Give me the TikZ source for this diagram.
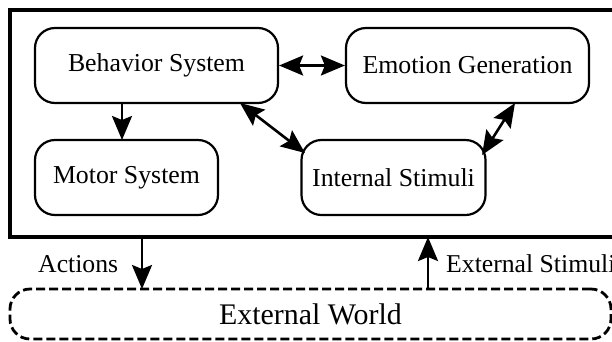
\documentclass[tikz,border=0pt]{standalone}
\usepackage{fontspec}
\setmainfont{Liberation Serif}
\usetikzlibrary{arrows.meta}
\begin{document}
\begin{tikzpicture}[x=1pt,y=-1pt,
  box/.style={draw, line width=2.2pt, rounded corners=20pt, inner sep=0pt, minimum height=75pt,
    font=\fontsize{25.8}{30}\selectfont},
  conn/.style={line width=2.6pt, -{Stealth[length=24pt,width=20pt,inset=4pt]}},
  biconn/.style={line width=2.6pt, {Stealth[length=24pt,width=20pt,inset=4pt]}-{Stealth[length=24pt,width=20pt,inset=4pt]}},
  lbl/.style={inner sep=0pt, anchor=base west, font=\fontsize{25.7}{30}\selectfont}]
\useasboundingbox (0,0) rectangle (612,341);
\clip (0,0) rectangle (612,341);
\fill[white] (0,0) rectangle (612,341);
\draw[line width=4.5pt] (10,10) rectangle (640,237);
\node[box, minimum width=243pt] (beh) at (156.5,65.5) {Behavior System};
\node[box, minimum width=243pt] (emo) at (467.5,65.5) {Emotion Generation};
\node[box, minimum width=183pt] (mot) at (126.5,177.5) {Motor System};
\node[box, minimum width=184pt] (int) at (393.5,177.5) {Internal Stimuli};
\node[draw, line width=2.8pt, dash pattern=on 9pt off 4pt, rounded corners=20pt, inner sep=0pt,
  minimum width=601pt, minimum height=50pt, font=\fontsize{29.9}{34}\selectfont] (ext) at (310.5,314) {External World};
\coordinate (bm) at (122,103);
\coordinate (mt) at (122,140);
\draw[conn] (bm) -- (mt);
\draw[biconn] (beh.east) -- (emo.west);
\coordinate (bi1) at (240,103);
\coordinate (bi2) at (305,153);
\draw[biconn] (bi1) -- (bi2);
\coordinate (ei1) at (515,103);
\coordinate (ei2) at (482,155);
\draw[biconn] (ei1) -- (ei2);
\coordinate (ao) at (142,237);
\coordinate (ai) at (142,289);
\draw[conn] (ao) -- (ai);
\coordinate (si) at (428,289);
\coordinate (so) at (428,237);
\draw[conn] (si) -- (so);
\node[lbl] (act) at (38,272) {Actions};
\node[lbl] (exs) at (446,272) {External Stimuli};
\end{tikzpicture}
\end{document}
